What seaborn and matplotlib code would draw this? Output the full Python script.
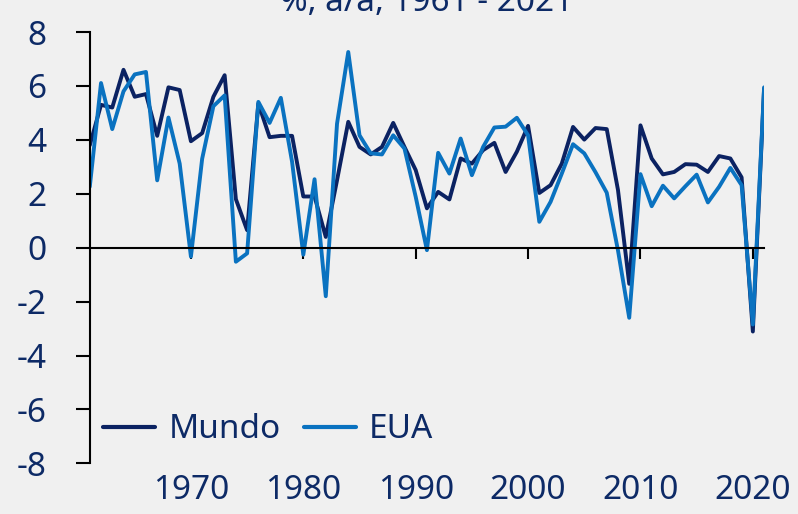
import numpy as np
import pandas as pd
import matplotlib
matplotlib.use("Agg")
import matplotlib.pyplot as plt
import seaborn as sns

# Crescimento do PIB, %, a/a
years = list(range(1961, 2022))

mundo = [3.8, 5.3, 5.2, 6.6, 5.6, 5.7, 4.15, 5.95, 5.85, 3.95,
         4.25, 5.6, 6.4, 1.8, 0.65, 5.35, 4.1, 4.15, 4.15, 1.9,
         1.9, 0.4, 2.5, 4.67, 3.74, 3.46, 3.74, 4.63, 3.74, 2.88,
         1.46, 2.07, 1.79, 3.31, 3.12, 3.62, 3.89, 2.81, 3.56, 4.52,
         2.03, 2.32, 3.12, 4.48, 4.01, 4.44, 4.4, 2.14, -1.34, 4.54,
         3.31, 2.72, 2.81, 3.1, 3.08, 2.81, 3.4, 3.31, 2.61, -3.11,
         5.9]

eua = [2.26, 6.11, 4.4, 5.8, 6.43, 6.52, 2.5, 4.83, 3.12, -0.33,
       3.3, 5.25, 5.65, -0.52, -0.21, 5.41, 4.63, 5.56, 3.19, -0.26,
       2.54, -1.8, 4.6, 7.26, 4.17, 3.5, 3.46, 4.17, 3.68, 1.89,
       -0.09, 3.52, 2.75, 4.05, 2.69, 3.74, 4.46, 4.49, 4.82, 4.17,
       0.96, 1.7, 2.75, 3.84, 3.5, 2.8, 2.04, -0.1, -2.6, 2.73,
       1.54, 2.3, 1.83, 2.28, 2.71, 1.68, 2.26, 2.96, 2.32, -2.85,
       5.95]

series = ["Mundo", "EUA"]
colors = ["#0b2262", "#0a72c0"]
title = "%, a/a, 1961 - 2021"
yticks = [-8, -6, -4, -2, 0, 2, 4, 6, 8]
xticks = [1970, 1980, 1990, 2000, 2010, 2020]

df = pd.DataFrame({
    "ano": years * 2,
    "valor": mundo + eua,
    "serie": ["Mundo"] * len(years) + ["EUA"] * len(years),
})

bg = "#f0f0f0"
txt = "#0d2a66"

sns.set_style("white")
plt.rcParams["font.family"] = ["Noto Sans", "DejaVu Sans"]
plt.rcParams["axes.unicode_minus"] = False

fig = plt.figure(figsize=(7.98, 5.14), dpi=100, facecolor=bg)
ax = fig.add_axes([0.1125, 0.0986, 0.845, 0.839])
ax.set_facecolor(bg)

sns.lineplot(data=df, x="ano", y="valor", hue="serie", hue_order=series,
             palette=colors, linewidth=2.8, ax=ax)

ax.set_xlim(1961, 2021)
ax.set_ylim(-8, 8)
ax.set_yticks(yticks)
ax.set_xticks(xticks)
ax.set_xlabel("")
ax.set_ylabel("")

for s in ["top", "right"]:
    ax.spines[s].set_visible(False)
ax.spines["left"].set_linewidth(1.5)
ax.spines["left"].set_color("black")
ax.spines["bottom"].set_position(("data", 0))
ax.spines["bottom"].set_linewidth(1.5)
ax.spines["bottom"].set_color("black")

ax.tick_params(axis="y", direction="out", length=10, width=1.5, pad=21,
               labelsize=24, labelcolor=txt, color="black", left=True)
ax.tick_params(axis="x", direction="out", length=8, width=1.5, pad=155,
               labelsize=24, labelcolor=txt, color="black", bottom=True)

leg = ax.legend(loc="center left", bbox_to_anchor=(0.02, 0.078), ncol=2,
                frameon=False, fontsize=24, handlelength=1.55,
                handletextpad=0.4, columnspacing=0.7, borderpad=0,
                borderaxespad=0)
for t in leg.get_texts():
    t.set_color(txt)
for h in leg.get_lines():
    h.set_linewidth(3)

fig.text(0.535, 1 - 11 / 514, title, ha="center", va="baseline",
         fontsize=24, color=txt)

fig.savefig("out.png", dpi=100, facecolor=bg)
